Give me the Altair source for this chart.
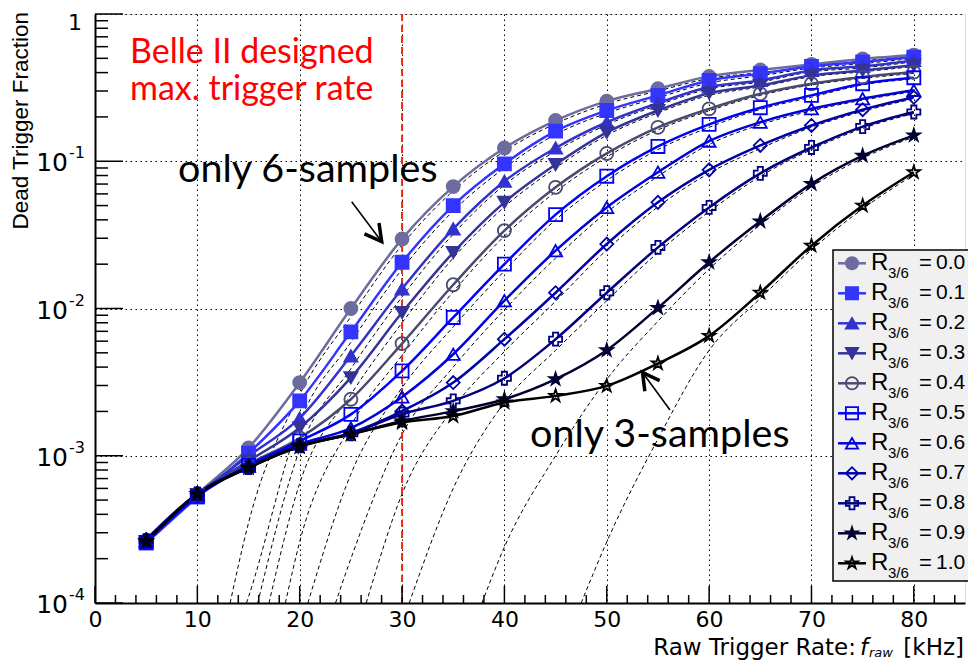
import altair as alt
import pandas as pd

# ---------------- data ----------------
x_khz = [5, 10, 15, 20, 25, 30, 35, 40, 45, 50, 55, 60, 65, 70, 75, 80]
r_labels = ["0.0", "0.1", "0.2", "0.3", "0.4", "0.5", "0.6", "0.7", "0.8", "0.9", "1.0"]

r00 = [2.63e-4, 5.50e-4, 1.13e-3, 3.14e-3, 1.00e-2, 2.97e-2, 6.73e-2, 0.123, 0.189, 0.256, 0.311, 0.377, 0.417, 0.455, 0.495, 0.526]
r01 = [2.55e-4, 5.24e-4, 1.04e-3, 2.36e-3, 6.94e-3, 2.06e-2, 5.00e-2, 0.096, 0.160, 0.221, 0.280, 0.354, 0.393, 0.441, 0.472, 0.510]
r02 = [2.63e-4, 5.40e-4, 9.95e-4, 1.80e-3, 4.77e-3, 1.36e-2, 3.47e-2, 0.0731, 0.123, 0.184, 0.248, 0.319, 0.354, 0.414, 0.441, 0.484]
r03 = [2.60e-4, 5.45e-4, 9.20e-4, 1.55e-3, 3.39e-3, 9.39e-3, 2.40e-2, 0.0526, 0.0950, 0.157, 0.221, 0.290, 0.327, 0.383, 0.414, 0.448]
r04 = [2.65e-4, 5.50e-4, 8.79e-4, 1.32e-3, 2.42e-3, 5.78e-3, 1.45e-2, 0.0338, 0.0665, 0.113, 0.170, 0.227, 0.287, 0.336, 0.373, 0.403]
r05 = [2.58e-4, 5.30e-4, 8.60e-4, 1.26e-3, 1.91e-3, 3.77e-3, 8.69e-3, 0.0200, 0.0434, 0.0791, 0.126, 0.178, 0.231, 0.280, 0.336, 0.369]
r06 = [2.65e-4, 5.50e-4, 8.50e-4, 1.20e-3, 1.54e-3, 2.51e-3, 4.89e-3, 0.0113, 0.0247, 0.0486, 0.0842, 0.137, 0.184, 0.227, 0.266, 0.303]
r07 = [2.70e-4, 5.55e-4, 8.40e-4, 1.18e-3, 1.43e-3, 2.01e-3, 3.14e-3, 6.19e-3, 1.28e-2, 2.74e-2, 5.26e-2, 0.0874, 0.128, 0.175, 0.224, 0.272]
r08 = [2.65e-4, 5.50e-4, 8.30e-4, 1.17e-3, 1.41e-3, 1.92e-3, 2.36e-3, 3.36e-3, 6.19e-3, 1.28e-2, 2.60e-2, 4.86e-2, 0.0828, 0.124, 0.172, 0.216]
r09 = [2.62e-4, 5.50e-4, 8.30e-4, 1.16e-3, 1.40e-3, 1.72e-3, 2.01e-3, 2.42e-3, 3.31e-3, 5.21e-3, 1.01e-2, 2.06e-2, 3.91e-2, 7.02e-2, 0.109, 0.150]
r10 = [2.62e-4, 5.50e-4, 8.30e-4, 1.15e-3, 1.40e-3, 1.68e-3, 1.86e-3, 2.30e-3, 2.55e-3, 2.98e-3, 4.23e-3, 6.52e-3, 1.28e-2, 2.67e-2, 5.00e-2, 8.42e-2]
series_values = [r00, r01, r02, r03, r04, r05, r06, r07, r08, r09, r10]

# dashed model curves: x where each one leaves the bottom of the plot, then values on the same x grid
dash_start = [13.2, 14.8, 15.9, 17.0, 18.6, 20.8, 23.5, 26.5, 30.7, 37.8, 47.5]
dash_floor = 1e-4
d00 = [None, None, 3.5e-4, 2.6e-3, 8.8e-3, 2.7e-2, 6.3e-2, 0.117, 0.180, 0.245, 0.300, 0.365, 0.400, 0.440, 0.480, 0.515]
d01 = [None, None, 1.1e-4, 1.7e-3, 5.9e-3, 1.85e-2, 4.6e-2, 0.090, 0.152, 0.212, 0.270, 0.340, 0.380, 0.430, 0.460, 0.500]
d02 = [None, None, None, 1.1e-3, 3.9e-3, 1.2e-2, 3.2e-2, 0.069, 0.117, 0.177, 0.240, 0.310, 0.345, 0.405, 0.430, 0.475]
d03 = [None, None, None, 6.5e-4, 2.6e-3, 8.0e-3, 2.2e-2, 0.049, 0.090, 0.150, 0.213, 0.280, 0.320, 0.375, 0.405, 0.440]
d04 = [None, None, None, 2.6e-4, 1.6e-3, 4.8e-3, 1.3e-2, 0.031, 0.062, 0.107, 0.163, 0.220, 0.280, 0.330, 0.365, 0.395]
d05 = [None, None, None, None, 7.5e-4, 2.9e-3, 7.5e-3, 0.018, 0.040, 0.074, 0.120, 0.170, 0.225, 0.272, 0.330, 0.362]
d06 = [None, None, None, None, 2.0e-4, 1.4e-3, 4.0e-3, 9.8e-3, 0.022, 0.045, 0.079, 0.130, 0.177, 0.220, 0.260, 0.297]
d07 = [None, None, None, None, None, 5.5e-4, 2.1e-3, 5.1e-3, 0.0112, 0.025, 0.049, 0.083, 0.122, 0.170, 0.218, 0.266]
d08 = [None, None, None, None, None, None, 6.0e-4, 2.3e-3, 5.2e-3, 0.0113, 0.024, 0.0455, 0.079, 0.120, 0.167, 0.211]
d09 = [None, None, None, None, None, None, None, 2.4e-4, 1.0e-3, 3.3e-3, 8.2e-3, 0.0185, 0.037, 0.067, 0.105, 0.146]
d10 = [None, None, None, None, None, None, None, None, None, 2.6e-4, 1.3e-3, 5.2e-3, 0.0117, 0.025, 0.0475, 0.081]
dash_values = [d00, d01, d02, d03, d04, d05, d06, d07, d08, d09, d10]

design_rate = [30]
x_tick_values = [0, 10, 20, 30, 40, 50, 60, 70, 80]
y_decades = [1e-4, 1e-3, 1e-2, 1e-1]
y_exponents = ["-4", "-3", "-2", "-1"]
y_top = [1.0]

# ---------------- styles ----------------
STAR = "M0,-1L0.2245,-0.309L0.951,-0.309L0.363,0.118L0.588,0.809L0,0.382L-0.588,0.809L-0.363,0.118L-0.951,-0.309L-0.2245,-0.309Z"
colors = ["#6c6c9e", "#3434ff", "#3333cc", "#333399", "#4a4a70", "#0000ff", "#0000dd", "#0000aa", "#000080", "#000033", "#000000"]
shapes = ["circle", "square", "triangle-up", "triangle-down", "circle", "square", "triangle-up", "diamond", "cross", STAR, STAR]
fills = ["#6c6c9e", "#3434ff", "#3333cc", "#333399", "transparent", "transparent", "transparent", "transparent", "transparent", "#000033", "transparent"]

W, H = 870, 589
FONT = "DejaVu Sans"
LEGF = "Liberation Sans"
ANN = "Lato"

stroke_scale = alt.Scale(domain=r_labels, range=colors)
shape_scale = alt.Scale(domain=r_labels, range=shapes)
fill_scale = alt.Scale(domain=r_labels, range=fills)

# ---------------- tables ----------------
rows = []
for lab, vals in zip(r_labels, series_values):
    for xv, yv in zip(x_khz, vals):
        rows.append({"series": lab, "x": xv, "y": yv})
df = pd.DataFrame(rows)

drows = []
for lab, x0, vals in zip(r_labels, dash_start, dash_values):
    drows.append({"series": lab, "x": x0, "y": dash_floor})
    for xv, yv in zip(x_khz, vals):
        if yv is not None:
            drows.append({"series": lab, "x": xv, "y": yv})
ddf = pd.DataFrame(drows)

xs = alt.Scale(domain=[0, 85], nice=False, zero=False)
ys = alt.Scale(type="log", domain=[1e-4, 1], nice=False)

one = pd.DataFrame({"a": [0]})

# axes / grid carrier
grid = alt.Chart(df).mark_point(opacity=0).encode(
    x=alt.X("x:Q", scale=xs, axis=alt.Axis(
        values=x_tick_values, title=None, grid=True, gridDash=[1.5, 3.5], gridColor="#000",
        gridWidth=1, ticks=False, domainColor="#000", domainWidth=2, labelFont=FONT,
        labelFontSize=22, labelColor="#000", labelPadding=6, labelFlush=False)),
    y=alt.Y("y:Q", scale=ys, axis=alt.Axis(
        values=y_decades + y_top, title=None, grid=True, gridDash=[1.5, 3.5], gridColor="#000",
        gridWidth=1, ticks=False, labels=False, domainColor="#000", domainWidth=2)),
)

# inside ticks (ROOT style)
x_minor = [v for v in range(2, 86, 2) if v % 10]
y_minor = [m * d for d in y_decades for m in range(2, 10)]
xt_major = alt.Chart(pd.DataFrame({"t": x_tick_values})).mark_rule(color="#000", strokeWidth=1.5).encode(
    x=alt.X("t:Q", scale=xs), y=alt.value(H), y2=alt.value(H - 17))
xt_minor = alt.Chart(pd.DataFrame({"t": x_minor})).mark_rule(color="#000", strokeWidth=1.5).encode(
    x=alt.X("t:Q", scale=xs), y=alt.value(H), y2=alt.value(H - 8))
yt_major = alt.Chart(pd.DataFrame({"v": y_decades + y_top})).mark_rule(color="#000", strokeWidth=1.5).encode(
    y=alt.Y("v:Q", scale=ys), x=alt.value(0), x2=alt.value(28))
yt_minor = alt.Chart(pd.DataFrame({"v": y_minor})).mark_rule(color="#000", strokeWidth=1.5).encode(
    y=alt.Y("v:Q", scale=ys), x=alt.value(0), x2=alt.value(13))

# y tick labels with exponents
ylab_df = pd.DataFrame({"v": y_decades, "e": y_exponents})
ylab_base = alt.Chart(ylab_df).mark_text(align="right", baseline="middle", font=FONT, fontSize=25, color="#000", dy=2).encode(
    y=alt.Y("v:Q", scale=ys), x=alt.value(-27), text=alt.value("10"))
ylab_exp = alt.Chart(ylab_df).mark_text(align="left", baseline="middle", font=FONT, fontSize=16, color="#000", dy=-8).encode(
    y=alt.Y("v:Q", scale=ys), x=alt.value(-26), text="e:N")
ylab_one = alt.Chart(pd.DataFrame({"v": y_top})).mark_text(align="right", baseline="middle", font=FONT, fontSize=22, color="#000", dy=9).encode(
    y=alt.Y("v:Q", scale=ys), x=alt.value(-13), text=alt.value("1"))

# titles
ytitle = alt.Chart(one).mark_text(angle=270, align="right", baseline="top", font="Liberation Sans", fontSize=22.5, color="#000").encode(
    x=alt.value(-85), y=alt.value(-2), text=alt.value("Dead Trigger Fraction"))
TB = 641
xt1 = alt.Chart(one).mark_text(align="right", baseline="alphabetic", font=FONT, fontSize=23, color="#000").encode(
    x=alt.value(761), y=alt.value(TB), text=alt.value("Raw Trigger Rate:"))
xt2 = alt.Chart(one).mark_text(align="left", baseline="alphabetic", font=FONT, fontStyle="italic", fontSize=23, color="#000").encode(
    x=alt.value(765), y=alt.value(TB), text=alt.value("f"))
xt3 = alt.Chart(one).mark_text(align="left", baseline="alphabetic", font=FONT, fontStyle="italic", fontSize=13, color="#000").encode(
    x=alt.value(774), y=alt.value(TB + 1.5), text=alt.value("raw"))
xt4 = alt.Chart(one).mark_text(align="right", baseline="alphabetic", font=FONT, fontSize=23, color="#000").encode(
    x=alt.value(869), y=alt.value(TB), text=alt.value("[kHz]"))

# model curves and design line
dashed = alt.Chart(ddf).mark_line(color="#000", strokeWidth=1, strokeDash=[4, 3], interpolate="monotone", clip=True).encode(
    x=alt.X("x:Q", scale=xs), y=alt.Y("y:Q", scale=ys), detail="series:N")
design = alt.Chart(pd.DataFrame({"x": design_rate})).mark_rule(color="#ee2a10", strokeWidth=2, strokeDash=[7, 4]).encode(
    x=alt.X("x:Q", scale=xs))

lines = alt.Chart(df).mark_line(strokeWidth=2.5, interpolate="monotone").encode(
    x=alt.X("x:Q", scale=xs), y=alt.Y("y:Q", scale=ys),
    stroke=alt.Stroke("series:N", scale=stroke_scale, legend=None), detail="series:N")
points = alt.Chart(df).mark_point(filled=True, size=170, strokeWidth=1.8, opacity=1).encode(
    x=alt.X("x:Q", scale=xs), y=alt.Y("y:Q", scale=ys),
    shape=alt.Shape("series:N", scale=shape_scale, legend=None),
    fill=alt.Fill("series:N", scale=fill_scale, legend=None),
    stroke=alt.Stroke("series:N", scale=stroke_scale, legend=None))

# annotations
belle1 = alt.Chart(one).mark_text(align="left", baseline="alphabetic", font=ANN, fontSize=34, color="#ff0000").encode(
    x=alt.value(35), y=alt.value(49), text=alt.value("Belle II designed"))
belle2 = alt.Chart(one).mark_text(align="left", baseline="alphabetic", font=ANN, fontSize=34, color="#ff0000").encode(
    x=alt.value(35), y=alt.value(86), text=alt.value("max. trigger rate"))
only6 = alt.Chart(one).mark_text(align="left", baseline="alphabetic", font=ANN, fontSize=39.5, color="#000").encode(
    x=alt.value(83), y=alt.value(168), text=alt.value("only 6-samples"))
only3 = alt.Chart(one).mark_text(align="left", baseline="alphabetic", font=ANN, fontSize=39.5, color="#000").encode(
    x=alt.value(435), y=alt.value(433), text=alt.value("only 3-samples"))
HEAD = "M -1 -0.55 L 0 0 L -1 0.55"
arrow1 = alt.Chart(one).mark_rule(color="#000", strokeWidth=1.6).encode(
    x=alt.value(256.7), y=alt.value(187.7), x2=alt.value(285), y2=alt.value(225.5))
head1 = alt.Chart(one).mark_point(shape=HEAD, filled=False, size=1100, strokeWidth=3.5, angle=53, color="#000", opacity=1).encode(
    x=alt.value(286.7), y=alt.value(227.7))
arrow2 = alt.Chart(one).mark_rule(color="#000", strokeWidth=1.6).encode(
    x=alt.value(575), y=alt.value(396), x2=alt.value(549), y2=alt.value(360.5))
head2 = alt.Chart(one).mark_point(shape=HEAD, filled=False, size=1100, strokeWidth=3.5, angle=234, color="#000", opacity=1).encode(
    x=alt.value(547.5), y=alt.value(358.5))

# legend (drawn by hand so the subscript can be shown)
leg_df = pd.DataFrame({"series": r_labels, "idx": list(range(len(r_labels)))})
leg_base = alt.Chart(leg_df).transform_calculate(ly="249.3 + 30*datum.idx")
LY = alt.Y("ly:Q", scale=None, axis=None)
leg_box = alt.Chart(one).mark_rect(fill="#f0f0f0", stroke="#000", strokeWidth=1.5).encode(
    x=alt.value(738), x2=alt.value(900), y=alt.value(236), y2=alt.value(567))
leg_line = leg_base.mark_rule(strokeWidth=2.5).encode(
    y=LY, x=alt.value(743), x2=alt.value(771),
    stroke=alt.Stroke("series:N", scale=stroke_scale, legend=None))
leg_pt = leg_base.mark_point(filled=True, size=150, strokeWidth=1.8, opacity=1).encode(
    y=LY, x=alt.value(757),
    shape=alt.Shape("series:N", scale=shape_scale, legend=None),
    fill=alt.Fill("series:N", scale=fill_scale, legend=None),
    stroke=alt.Stroke("series:N", scale=stroke_scale, legend=None))
leg_r = leg_base.mark_text(align="left", baseline="middle", font=LEGF, fontSize=24, color="#000").encode(
    y=LY, x=alt.value(776), text=alt.value("R"))
leg_sub = leg_base.mark_text(align="left", baseline="middle", font=LEGF, fontSize=15, color="#000", dy=10).encode(
    y=LY, x=alt.value(793), text=alt.value("3/6"))
leg_eq = leg_base.mark_text(align="left", baseline="middle", font=LEGF, fontSize=22, color="#000").encode(
    y=LY, x=alt.value(824), text=alt.value("="))
leg_val = leg_base.mark_text(align="left", baseline="middle", font=LEGF, fontSize=21, color="#000").encode(
    y=LY, x=alt.value(841), text="series:N")

chart = alt.layer(
    grid, dashed, design, lines, points,
    xt_major, xt_minor, yt_major, yt_minor,
    ylab_base, ylab_exp, ylab_one, ytitle, xt1, xt2, xt3, xt4,
    belle1, belle2, only6, only3, arrow1, head1, arrow2, head2,
    leg_box, leg_line, leg_pt, leg_r, leg_sub, leg_eq, leg_val,
).properties(
    width=W, height=H,
    padding={"left": 87, "top": 6, "right": 3, "bottom": 57},
    autosize=alt.AutoSizeParams(type="none"),
).configure_view(stroke="#555", strokeWidth=1.5).configure(background="white")

chart.save("out.html", embed_options={"renderer": "svg", "actions": False})
